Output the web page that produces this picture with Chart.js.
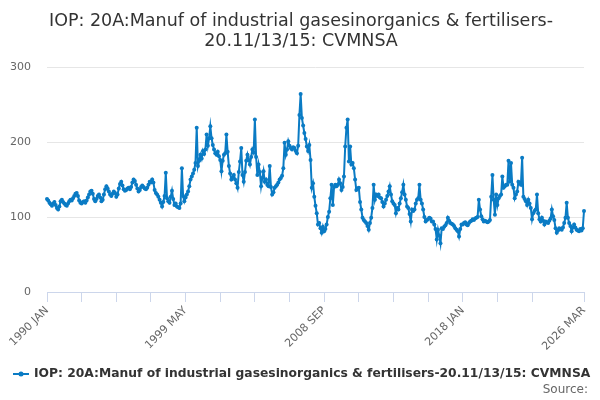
<!DOCTYPE html>
<html>
<head>
<meta charset="utf-8">
<script src="https://cdn.jsdelivr.net/npm/chart.js@4.4.0/dist/chart.umd.min.js"></script>
<style>
  html, body { margin: 0; padding: 0; background: #fff; }
  #wrap { width: 600px; height: 400px; }
</style>
</head>
<body>
<div id="wrap"><canvas id="chart" width="600" height="400"></canvas></div>
<script>
const titleLines = [
  "IOP: 20A:Manuf of industrial gasesinorganics & fertilisers-",
  "20.11/13/15: CVMNSA"
];
const seriesName = "IOP: 20A:Manuf of industrial gasesinorganics & fertilisers-20.11/13/15: CVMNSA";
const sourceText = "Source:";

const monthNames = ["JAN", "FEB", "MAR", "APR", "MAY", "JUN", "JUL", "AUG", "SEP", "OCT", "NOV", "DEC"];
const firstYear = 1990;

// monthly values, Jan 1990 .. Mar 2026
const cvmnsa = [
  124, 122, 119, 117, 115, 118, 120, 116, 112, 110, 114, 121, // 1990
  123, 120, 118, 116, 115, 118, 121, 123, 122, 125, 128, 131, // 1991
  132, 128, 122, 119, 118, 120, 121, 119, 122, 126, 130, 134, // 1992
  135, 131, 124, 121, 124, 128, 130, 126, 121, 123, 130, 137, // 1993
  141, 138, 134, 130, 128, 131, 134, 132, 127, 130, 138, 144, // 1994
  147, 142, 137, 135, 136, 138, 139, 137, 140, 146, 150, 148, // 1995
  143, 138, 134, 136, 140, 142, 140, 138, 137, 139, 143, 147, // 1996
  146, 150, 146, 136, 132, 130, 127, 123, 119, 114, 120, 128, // 1997
  159, 125, 121, 119, 127, 135, 124, 116, 118, 114, 113, 112, // 1998
  118, 165, 128, 121, 126, 130, 134, 141, 150, 154, 158, 163, // 1999
  172, 219, 168, 175, 183, 178, 188, 184, 190, 210, 195, 205, // 2000
  221, 205, 196, 190, 185, 183, 187, 181, 176, 161, 175, 183, // 2001
  185, 210, 187, 168, 158, 150, 153, 156, 150, 145, 139, 160, // 2002
  174, 192, 156, 147, 160, 175, 183, 176, 170, 180, 190, 186, // 2003
  230, 180, 156, 170, 160, 141, 152, 161, 147, 150, 143, 141, // 2004
  168, 140, 130, 133, 139, 141, 143, 146, 150, 152, 155, 165, // 2005
  199, 183, 190, 201, 195, 192, 190, 193, 192, 188, 185, 195, // 2006
  236, 264, 232, 222, 212, 204, 194, 188, 196, 176, 139, 145, // 2007
  127, 115, 105, 90, 92, 85, 79, 87, 81, 84, 90, 100,         // 2008
  107, 125, 143, 116, 140, 143, 141, 143, 150, 145, 136, 140, // 2009
  154, 194, 219, 230, 174, 194, 170, 172, 165, 150, 136, 138, // 2010
  139, 120, 110, 99, 96, 94, 92, 88, 83, 92, 99, 112,         // 2011
  143, 123, 130, 128, 130, 126, 125, 120, 114, 118, 123, 128, // 2012
  134, 141, 130, 121, 118, 116, 105, 112, 110, 118, 125, 133, // 2013
  143, 130, 123, 114, 112, 104, 94, 110, 108, 110, 118, 123,  // 2014
  125, 143, 123, 118, 110, 100, 94, 96, 97, 99, 98, 94,       // 2015
  94, 90, 84, 70, 83, 75, 65, 85, 84, 87, 89, 92,             // 2016
  99, 95, 92, 91, 90, 88, 85, 83, 81, 74, 84, 90,             // 2017
  90, 92, 93, 90, 89, 92, 94, 95, 97, 96, 98, 99,             // 2018
  100, 123, 110, 101, 97, 94, 95, 94, 93, 94, 96, 127,        // 2019
  156, 123, 103, 130, 116, 125, 128, 130, 154, 139, 141, 143, // 2020
  143, 175, 147, 172, 143, 139, 125, 130, 134, 147, 145, 143, // 2021
  179, 127, 124, 121, 116, 123, 118, 112, 97, 105, 108, 110,  // 2022
  130, 105, 97, 94, 99, 95, 90, 94, 93, 92, 95, 98,           // 2023
  110, 101, 96, 85, 79, 82, 85, 84, 83, 86, 92, 99,           // 2024
  119, 99, 92, 88, 81, 86, 90, 86, 83, 82, 81, 84,            // 2025
  82, 85, 108                                                 // 2026
];

const yTicks = [0, 100, 200, 300];
const labelledTicks = [0, 112, 224, 336, 434];
const tickStep = 28;

const labels = cvmnsa.map((v, i) =>
  (firstYear + Math.floor(i / 12)) + " " + monthNames[i % 12]);

const lineColor = "#0a7bc4";
const font = '"DejaVu Sans", sans-serif';

function hasTickMark(i) {
  return (i % tickStep === 0 && i <= 392) || i === labels.length - 1;
}

const decorations = {
  id: "decorations",
  afterDraw(chart) {
    const ctx = chart.ctx;
    ctx.save();
    ctx.fillStyle = "#333333";
    ctx.textAlign = "center";
    ctx.textBaseline = "alphabetic";
    ctx.font = "17.5px " + font;
    ctx.fillText(titleLines[0], 301, 26);
    ctx.fillText(titleLines[1], 301, 46);

    // legend
    const ly = 374;
    ctx.strokeStyle = lineColor;
    ctx.lineWidth = 2;
    ctx.beginPath();
    ctx.moveTo(13, ly);
    ctx.lineTo(29, ly);
    ctx.stroke();
    ctx.fillStyle = lineColor;
    ctx.beginPath();
    ctx.arc(21, ly, 2.5, 0, Math.PI * 2);
    ctx.fill();
    ctx.fillStyle = "#333333";
    ctx.textAlign = "left";
    ctx.textBaseline = "middle";
    ctx.font = "bold 12.3px " + font;
    ctx.fillText(seriesName, 34, ly);

    ctx.fillStyle = "#666666";
    ctx.textAlign = "right";
    ctx.font = "12px " + font;
    ctx.fillText(sourceText, 588, 390);
    ctx.restore();
  }
};

new Chart(document.getElementById("chart"), {
  type: "line",
  data: {
    labels: labels,
    datasets: [{
      label: seriesName,
      data: cvmnsa,
      borderColor: lineColor,
      backgroundColor: lineColor,
      borderWidth: 2,
      pointRadius: 2,
      pointHoverRadius: 3,
      pointBorderWidth: 0,
      tension: 0
    }]
  },
  options: {
    responsive: false,
    animation: false,
    devicePixelRatio: 1,
    layout: { padding: { top: 67, right: 16, bottom: 0, left: 0 } },
    plugins: {
      legend: { display: false },
      title: { display: false },
      tooltip: { enabled: false }
    },
    scales: {
      x: {
        type: "category",
        offset: false,
        grid: {
          display: true,
          drawOnChartArea: false,
          drawTicks: true,
          tickLength: 10,
          tickColor: (c) => hasTickMark(c.index) ? "#ccd6eb" : "rgba(0,0,0,0)"
        },
        border: { display: true, color: "#ccd6eb", width: 1 },
        ticks: {
          autoSkip: false,
          minRotation: 45,
          maxRotation: 45,
          padding: 2,
          color: "#666666",
          font: { family: font, size: 11 },
          callback: (v, i) => labelledTicks.includes(i) ? labels[i] : ""
        },
        afterFit: (s) => { s.height = 108; }
      },
      y: {
        min: yTicks[0],
        max: yTicks[yTicks.length - 1],
        afterBuildTicks: (s) => { s.ticks = yTicks.map((v) => ({ value: v })); },
        grid: { color: "#e6e6e6", drawTicks: false },
        border: { display: false },
        ticks: {
          padding: 16,
          color: "#666666",
          font: { family: font, size: 11 }
        },
        afterFit: (s) => { s.width = 47; }
      }
    }
  },
  plugins: [decorations]
});
</script>
</body>
</html>
